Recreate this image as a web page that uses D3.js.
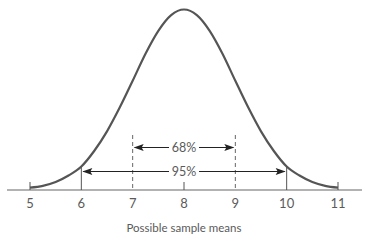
<!DOCTYPE html>
<html>
<head>
<meta charset="utf-8">
<script src="https://cdn.jsdelivr.net/npm/d3@7"></script>
<style>
  body { margin: 0; background: #fff; }
  text { font-family: Lato, "Open Sans", sans-serif; fill: #5a5a5a; }
</style>
</head>
<body>
<div class="chart"></div>
<script>
var svgWidth = 365;
var svgHeight = 241;

// curve heights (relative to the peak)
var curveX = [5, 5.25, 5.5, 5.75, 6, 6.25, 6.5, 6.75, 7, 7.25, 7.5, 7.75, 8,
  8.25, 8.5, 8.75, 9, 9.25, 9.5, 9.75, 10, 10.25, 10.5, 10.75, 11];
var curveY = [0.013, 0.023, 0.044, 0.08, 0.13, 0.216, 0.325, 0.458, 0.605, 0.755, 0.882, 0.969, 1,
  0.969, 0.882, 0.755, 0.605, 0.458, 0.325, 0.216, 0.13, 0.08, 0.044, 0.023, 0.013];

var tickValues = [5, 6, 7, 8, 9, 10, 11];
var intervals = [
  {label: "68%", from: 7, to: 9},
  {label: "95%", from: 6, to: 10}
];

var svg = d3.select(".chart")
  .append("svg")
  .attr("width", svgWidth)
  .attr("height", svgHeight);

var x = d3.scaleLinear()
  .domain([5, 11])
  .range([30, 338]);

var y = d3.scaleLinear()
  .domain([0, 1])
  .range([190, 9.5]);

var points = curveX.map(function(v, i) { return [v, curveY[i]]; });

// baseline
svg.append("line")
  .attr("x1", 7).attr("x2", 362)
  .attr("y1", y(0)).attr("y2", y(0))
  .attr("stroke", "#666")
  .attr("stroke-width", 1.2);

// small ticks at 5, 8, 11
[5, 8, 11].forEach(function(t) {
  svg.append("line")
    .attr("x1", x(t)).attr("x2", x(t))
    .attr("y1", y(0) - 8).attr("y2", y(0))
    .attr("stroke", "#555")
    .attr("stroke-width", 1);
});

// solid lines at 6 and 10, from curve down to the axis
[6, 10].forEach(function(t) {
  var h = curveY[curveX.indexOf(t)];
  svg.append("line")
    .attr("x1", x(t)).attr("x2", x(t))
    .attr("y1", y(h)).attr("y2", y(0))
    .attr("stroke", "#555")
    .attr("stroke-width", 1);
});

// dashed lines at 7 and 9
[7, 9].forEach(function(t) {
  svg.append("line")
    .attr("x1", x(t)).attr("x2", x(t))
    .attr("y1", 135).attr("y2", y(0))
    .attr("stroke", "#666")
    .attr("stroke-width", 1)
    .attr("stroke-dasharray", "4,3");
});

// the curve
svg.append("path")
  .datum(points)
  .attr("d", d3.line()
    .x(function(d) { return x(d[0]); })
    .y(function(d) { return y(d[1]); })
    .curve(d3.curveMonotoneX))
  .attr("fill", "none")
  .attr("stroke", "#555")
  .attr("stroke-width", 2.2);

// arrows
var arrowY = [147.5, 171.5];
intervals.forEach(function(iv, i) {
  var yy = arrowY[i];
  var x0 = x(iv.from), x1 = x(iv.to);
  var cx = (x0 + x1) / 2;
  var gap = 15;
  svg.append("line")
    .attr("x1", x0 + 2).attr("x2", cx - gap)
    .attr("y1", yy).attr("y2", yy)
    .attr("stroke", "#222").attr("stroke-width", 1);
  svg.append("line")
    .attr("x1", cx + gap).attr("x2", x1 - 2)
    .attr("y1", yy).attr("y2", yy)
    .attr("stroke", "#222").attr("stroke-width", 1);
  svg.append("path")
    .attr("d", "M" + (x0 + 1) + "," + yy + "L" + (x0 + 11) + "," + (yy - 3.5) + "L" + (x0 + 9) + "," + yy + "L" + (x0 + 11) + "," + (yy + 3.5) + "Z")
    .attr("fill", "#222");
  svg.append("path")
    .attr("d", "M" + (x1 - 1) + "," + yy + "L" + (x1 - 11) + "," + (yy - 3.5) + "L" + (x1 - 9) + "," + yy + "L" + (x1 - 11) + "," + (yy + 3.5) + "Z")
    .attr("fill", "#222");
  svg.append("text")
    .attr("x", cx)
    .attr("y", yy + 4.5)
    .attr("text-anchor", "middle")
    .attr("font-size", "12.5px")
    .text(iv.label);
});

// tick labels
svg.selectAll(".tickLabel")
  .data(tickValues)
  .enter()
  .append("text")
  .attr("class", "tickLabel")
  .attr("x", function(d) { return x(d); })
  .attr("y", 208)
  .attr("text-anchor", "middle")
  .attr("font-size", "13px")
  .text(function(d) { return d; });

// axis title
svg.append("text")
  .attr("x", x(8))
  .attr("y", 232)
  .attr("text-anchor", "middle")
  .attr("font-size", "11.5px")
  .text("Possible sample means");
</script>
</body>
</html>
